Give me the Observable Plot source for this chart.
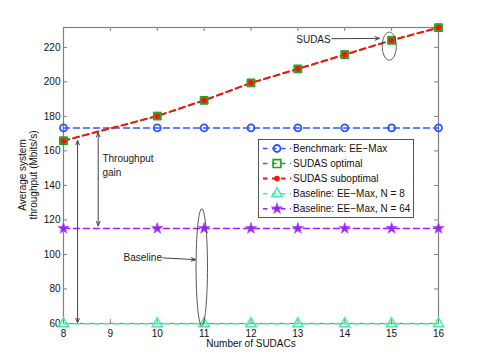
<!DOCTYPE html>
<html><head><meta charset="utf-8">
<script src="https://cdn.jsdelivr.net/npm/d3@7"></script>
<script src="https://cdn.jsdelivr.net/npm/@observablehq/plot@0.6"></script>
<style>
body{margin:0;background:#fff;}
#chart{width:485px;height:363px;}
</style></head><body><div id="chart"></div>
<script>
// ---- data ----
const sudacs = [8, 10, 11, 12, 13, 14, 15, 16];
const benchmarkEEMax = [173.3, 173.3, 173.3, 173.3, 173.3, 173.3, 173.3, 173.3];
const sudasOptimal = [165.9, 180.2, 189.3, 199.4, 207.5, 215.8, 224.1, 231.4];
const sudasSuboptimal = [165.9, 180.2, 189.3, 199.4, 207.5, 215.8, 224.1, 231.4];
const baselineN8 = [59.9, 59.9, 59.9, 59.9, 59.9, 59.9, 59.9, 59.9];
const baselineN64 = [115.1, 115.1, 115.1, 115.1, 115.1, 115.1, 115.1, 115.1];
const xTicks = [8, 9, 10, 11, 12, 13, 14, 15, 16];
const yTicks = [60, 80, 100, 120, 140, 160, 180, 200, 220];
const seriesNames = ["Benchmark: EE\u2212Max", "SUDAS optimal", "SUDAS suboptimal",
  "Baseline: EE\u2212Max, N = 8", "Baseline: EE\u2212Max, N = 64"];

// ---- styles ----
const styles = [
  {values: benchmarkEEMax, color: "#3355ff", symbol: "circle", r: 3.5, fill: "none", stroke: "#3355ff", sw: 1.8, lw: 1.6},
  {values: sudasOptimal, color: "#22a022", symbol: "square", r: 4.4, fill: "#2fae2f", stroke: "#1f9a1f", sw: 1, lw: 1.6},
  {values: sudasSuboptimal, color: "#ff1010", symbol: "circle", r: 2.8, fill: "#ff1010", stroke: "none", sw: 0, lw: 2},
  {values: baselineN8, color: "#40f0a8", symbol: "triangle", r: 3.8, fill: "none", stroke: "#40f0a8", sw: 1.5, lw: 1.5},
  {values: baselineN64, color: "#9b22f5", symbol: "star", r: 3.5, fill: "#9b22f5", stroke: "#b050ff", sw: 0.8, lw: 1.5}
];
const series = styles.map((s, i) => ({...s, name: seriesNames[i],
  rows: sudacs.map((x, j) => ({x, y: s.values[j]}))}));

const W = 485, H = 363, mL = 63, mR = 47, mT = 27, mB = 40;
const pw = W - mL - mR, ph = H - mT - mB;
const axisColor = "#808080";
const font = "Liberation Sans, Arial, Helvetica, sans-serif";

// annotation geometry (data space)
function ellipse(cx, cy, rx, ry) {
  return d3.range(0, 64).map(k => {
    const t = k / 64 * 2 * Math.PI;
    return {x: cx + rx * Math.cos(t), y: cy + ry * Math.sin(t)};
  });
}
const annoColor = "#444";
const arrows = [
  {x1: 13.72, y1: 225.0, x2: 14.74, y2: 225.2},
  {x1: 10.12, y1: 98.0, x2: 10.82, y2: 97.0},
  {x1: 8.30, y1: 113, x2: 8.30, y2: 166.0},
  {x1: 8.30, y1: 113, x2: 8.30, y2: 60.5},
  {x1: 8.74, y1: 144, x2: 8.74, y2: 170.6},
  {x1: 8.74, y1: 144, x2: 8.74, y2: 116.6}
];
const endLabels = [
  {x: 13.70, y: 224.6, text: "SUDAS"},
  {x: 10.10, y: 98.2, text: "Baseline"}
];
const startLabels = [
  {x: 8.83, y: 155.6, text: "Throughput"},
  {x: 8.83, y: 147.3, text: "gain"}
];

const marks = [
  Plot.frame({stroke: axisColor, strokeWidth: 1.2}),
  Plot.tickX(xTicks, {x: d => d, insetTop: ph - 4, stroke: axisColor}),
  Plot.tickX(xTicks, {x: d => d, insetBottom: ph - 4, stroke: axisColor}),
  Plot.tickY(yTicks, {y: d => d, insetRight: pw - 4, stroke: axisColor}),
  Plot.tickY(yTicks, {y: d => d, insetLeft: pw - 4, stroke: axisColor}),
  Plot.axisX(xTicks, {tickSize: 0, tickPadding: 6, label: null, fill: "#111"}),
  Plot.axisY(yTicks, {tickSize: 0, tickPadding: 3, label: null, fill: "#111"})
];
for (const s of series) {
  marks.push(Plot.line(s.rows, {x: "x", y: "y", stroke: s.color, strokeWidth: s.lw, strokeDasharray: "6,4"}));
}
for (const s of series) {
  marks.push(Plot.dot(s.rows, {x: "x", y: "y", symbol: () => s.symbol, r: s.r, fill: s.fill, stroke: s.stroke, strokeWidth: s.sw}));
}
marks.push(
  Plot.line(ellipse(14.95, 220.7, 0.15, 8.1), {x: "x", y: "y", curve: "linear-closed", stroke: annoColor, strokeWidth: 0.9}),
  Plot.line(ellipse(10.95, 92.6, 0.122, 33.9), {x: "x", y: "y", curve: "linear-closed", stroke: annoColor, strokeWidth: 0.9}),
  Plot.arrow(arrows, {x1: "x1", y1: "y1", x2: "x2", y2: "y2", stroke: annoColor, strokeWidth: 1, headLength: 7, headAngle: 45}),
  Plot.text(endLabels, {x: "x", y: "y", text: "text", textAnchor: "end", fill: "#222", fontSize: 10}),
  Plot.text(startLabels, {x: "x", y: "y", text: "text", textAnchor: "start", fill: "#222", fontSize: 10})
);

const chart = Plot.plot({
  width: W, height: H,
  marginLeft: mL, marginRight: mR, marginTop: mT, marginBottom: mB,
  x: {domain: [8, 16]},
  y: {domain: [60, 231.5]},
  style: {fontFamily: font, fontSize: "10px", background: "#fff", overflow: "visible"},
  marks
});
document.getElementById("chart").appendChild(chart);

// axis titles
const svg = d3.select(chart);
svg.append("text").attr("x", 251).attr("y", 346.5).attr("text-anchor", "middle")
  .attr("fill", "#111").attr("font-size", 10).attr("font-family", font).text("Number of SUDACs");
const yl = svg.append("g").attr("transform", "translate(0,175)");
yl.append("text").attr("transform", "translate(25.5,0) rotate(-90)").attr("text-anchor", "middle")
  .attr("fill", "#111").attr("font-size", 10).attr("font-family", font).text("Average system");
yl.append("text").attr("transform", "translate(37,0) rotate(-90)").attr("text-anchor", "middle")
  .attr("fill", "#111").attr("font-size", 10).attr("font-family", font).text("throughput (Mbits/s)");

// legend
const symMap = {circle: d3.symbolCircle, square: d3.symbolSquare, triangle: d3.symbolTriangle, star: d3.symbolStar};
const lg = svg.append("g").attr("font-family", font).attr("font-size", 10).attr("text-anchor", "start");
lg.append("rect").attr("x", 258.5).attr("y", 139.5).attr("width", 155).attr("height", 78)
  .attr("fill", "#fff").attr("stroke", "#444").attr("stroke-width", 0.9);
series.forEach((s, i) => {
  const cy = 148.5 + i * 15.05;
  const g = lg.append("g");
  g.append("line").attr("x1", 263).attr("x2", 291).attr("y1", cy).attr("y2", cy)
    .attr("stroke", s.color).attr("stroke-width", s.lw).attr("stroke-dasharray", "4.5,4.5");
  const legendFill = s.symbol === "square" ? "none" : s.fill;
  const legendStroke = s.symbol === "square" ? s.color : s.stroke;
  g.append("path").attr("d", d3.symbol(symMap[s.symbol], Math.PI * s.r * s.r)())
    .attr("transform", `translate(277,${cy})`)
    .attr("fill", legendFill).attr("stroke", legendStroke).attr("stroke-width", s.symbol === "square" ? 1.6 : s.sw);
  g.append("text").attr("x", 293).attr("y", cy).attr("dy", "0.35em").attr("text-anchor", "start").attr("fill", "#111").text(s.name);
});
</script>
</body></html>
